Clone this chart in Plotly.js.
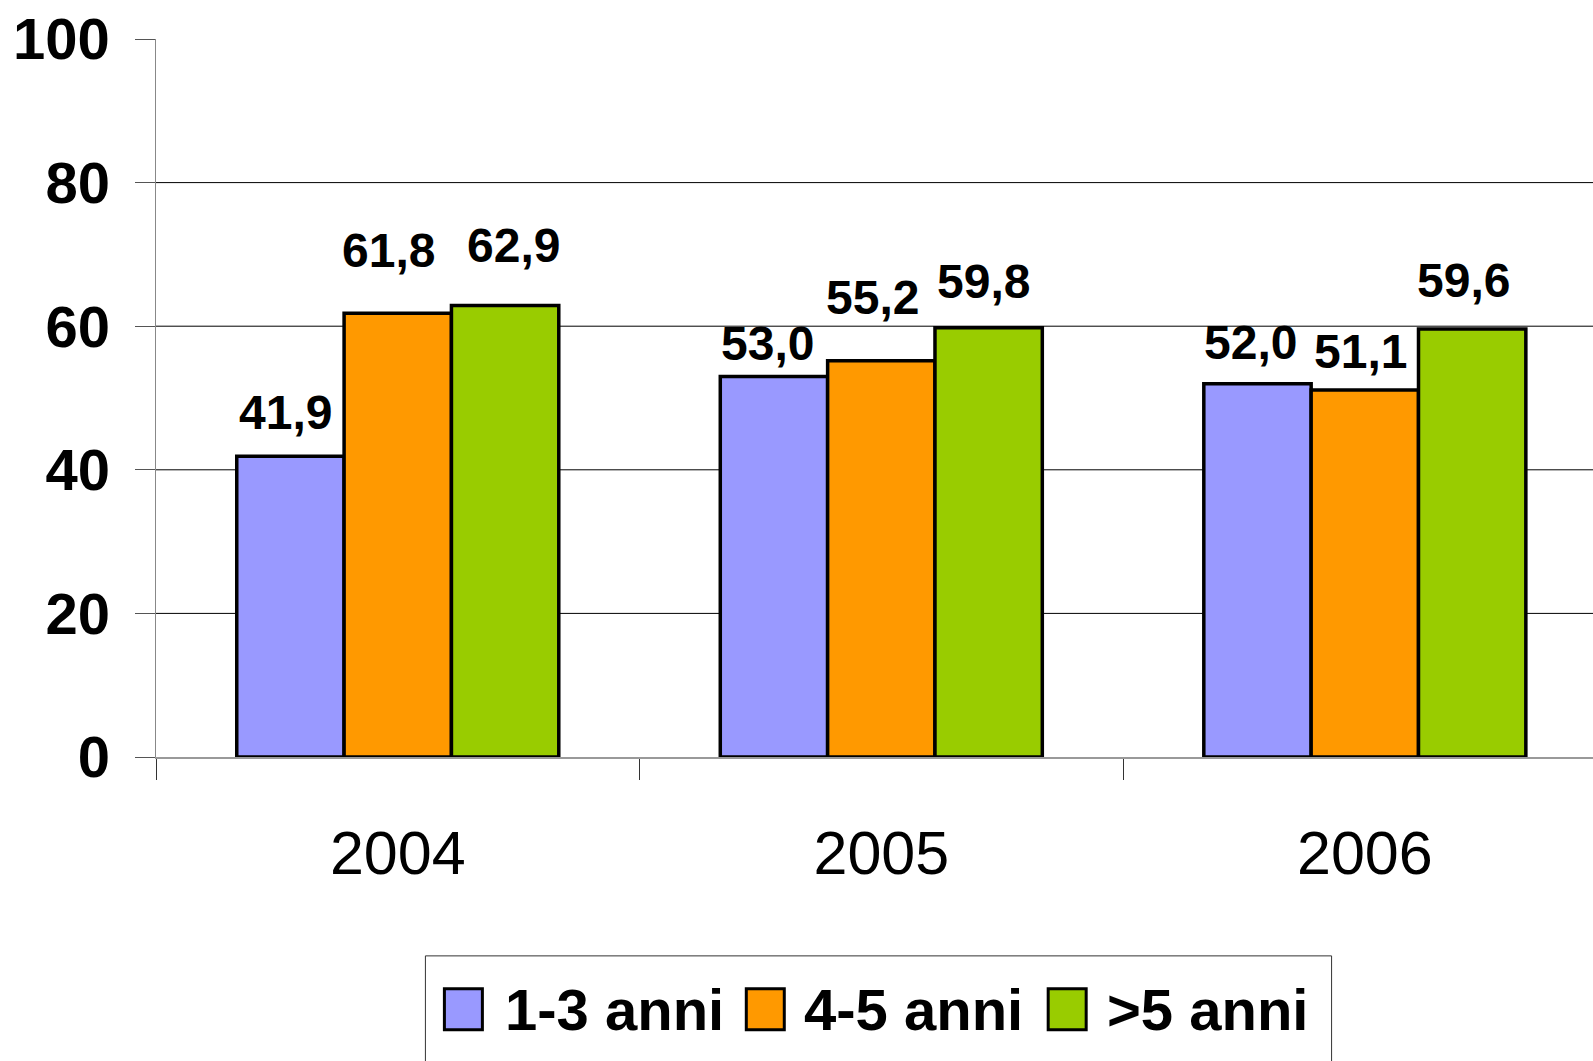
<!DOCTYPE html>
<html>
<head>
<meta charset="utf-8">
<script src="https://cdn.plot.ly/plotly-3.0.1.min.js"></script>
<style>
  html, body { margin: 0; padding: 0; background: #fff; }
  #chart { width: 1593px; height: 1061px; }
</style>
</head>
<body>
<div id="chart"></div>
<script>
// data
var years = ['2004', '2005', '2006'];
var seriesNames = ['1-3 anni', '4-5 anni', '>5 anni'];
var s1 = [41.9, 53.0, 52.0];
var s2 = [61.8, 55.2, 51.1];
var s3 = [62.9, 59.8, 59.6];
var yTicks = [0, 20, 40, 60, 80, 100];

// presentation
var colors = ['#9999FF', '#FF9900', '#99CC00'];
var bargap = 0.334;
// label placement tweaks (px): rise above bar top, and sideways nudge
var labelRise = [[44, 33, 41], [63, 63, 39], [60, 46, 49]];
var labelDx = [[-5, -6, -7], [-9, -9, -4], [8, -5, -9]];

var W = 1593, H = 1061;
var mL = 155.5, mT = 38.6, mB = H - 757, mR = 0;
var plotW = W - mL - mR, plotH = H - mT - mB;
function px2x(px) { return (px - mL) / plotW; }
function px2y(py) { return (H - mB - py) / plotH; }

var fontMain = '"Liberation Sans", Arial, sans-serif';

var allSeries = [s1, s2, s3];
var data = allSeries.map(function (vals, j) {
    return {
        type: 'bar',
        name: seriesNames[j],
        x: years,
        y: vals,
        marker: { color: colors[j], line: { color: '#000', width: 3.5 } },
        hoverinfo: 'skip'
    };
});

var annotations = [];
allSeries.forEach(function (vals, j) {
    vals.forEach(function (v, i) {
        annotations.push({
            xref: 'x', yref: 'y',
            x: i + (j - 1) * (1 - bargap) / 3,
            y: v,
            text: v.toFixed(1).replace('.', ','),
            showarrow: false,
            xanchor: 'center', yanchor: 'middle',
            xshift: labelDx[j][i],
            yshift: labelRise[j][i],
            font: { family: fontMain, size: 48, color: '#000', weight: 'bold' }
        });
    });
});

var shapes = [];
yTicks.forEach(function (t) {
    if (t > 0 && t < 100) {
        shapes.push({
            type: 'line', layer: 'below',
            xref: 'paper', yref: 'y', x0: 0, x1: 1, y0: t, y1: t,
            line: { color: '#000', width: 1 }
        });
    }
});

// legend box drawn by hand so the swatches can be large
shapes.push({
    type: 'rect', xref: 'paper', yref: 'paper',
    x0: px2x(425), x1: px2x(1331.5), y0: px2y(956), y1: px2y(1075),
    line: { color: '#333', width: 1 }, fillcolor: 'rgba(0,0,0,0)'
});
var swatchX = [444, 746, 1048];
var textX = [506, 805, 1108];
seriesNames.forEach(function (name, j) {
    shapes.push({
        type: 'rect', xref: 'paper', yref: 'paper',
        x0: px2x(swatchX[j]), x1: px2x(swatchX[j] + 38),
        y0: px2y(989), y1: px2y(1030),
        line: { color: '#000', width: 3 }, fillcolor: colors[j]
    });
    annotations.push({
        xref: 'paper', yref: 'paper',
        x: px2x(textX[j] - 3), y: px2y(1010),
        xanchor: 'left', yanchor: 'middle',
        text: name, showarrow: false,
        font: { family: fontMain, size: 58, color: '#000', weight: 'bold' }
    });
});

var layout = {
    width: W, height: H,
    margin: { l: mL, r: mR, t: mT, b: mB },
    paper_bgcolor: '#fff', plot_bgcolor: '#fff',
    showlegend: false,
    barmode: 'group',
    bargap: bargap,
    bargroupgap: 0,
    xaxis: {
        type: 'category',
        range: [-0.5, -0.5 + plotW / 483.7],
        showline: true, linecolor: '#999', linewidth: 1.5,
        ticks: 'outside', tickson: 'boundaries', ticklen: 21, tickcolor: '#333', tickwidth: 1,
        showgrid: false, zeroline: false,
        ticklabelstandoff: 42,
        tickfont: { family: fontMain, size: 61, color: '#000' }
    },
    yaxis: {
        range: [0, 100],
        tickvals: yTicks,
        showline: true, linecolor: '#888', linewidth: 1.5,
        ticks: 'outside', ticklen: 20, tickcolor: '#555', tickwidth: 1,
        showgrid: false, zeroline: false,
        ticklabelstandoff: 13,
        tickfont: { family: fontMain, size: 58, color: '#000', weight: 'bold' }
    },
    shapes: shapes,
    annotations: annotations
};

Plotly.newPlot('chart', data, layout, { displayModeBar: false, staticPlot: true });
</script>
</body>
</html>
